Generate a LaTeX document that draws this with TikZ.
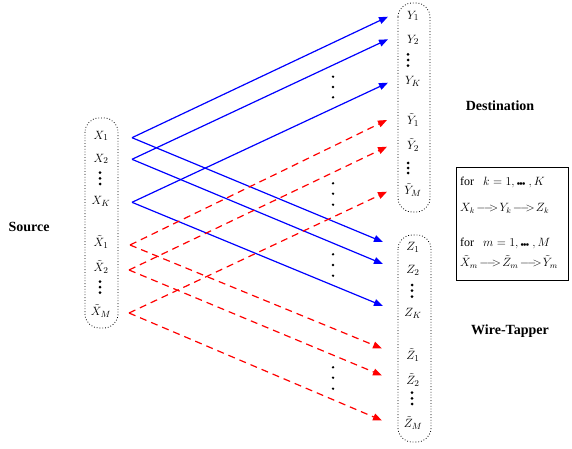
\documentclass[tikz,border=0pt]{standalone}
\usepackage{fontspec}
\setmainfont{Liberation Serif}
\usetikzlibrary{arrows.meta}
\newcommand{\hdots}{{\scriptscriptstyle\bullet\!\bullet\!\bullet}}
\newcommand{\marr}{\mkern2mu{\relbar\joinrel\relbar\joinrel\mkern-3mu>}\mkern2mu}
\begin{document}
\begin{tikzpicture}[x=1pt,y=-1pt,
  lbl/.style={inner sep=0pt,font=\fontsize{13}{13}\selectfont},
  blbl/.style={inner sep=0pt,font=\fontsize{12}{12}\selectfont},
  grp/.style={draw,dotted,thick,rounded corners=14pt},
  bluearr/.style={draw=blue,line width=1.2pt,-{Triangle[length=9pt,width=7pt]}},
  redarr/.style={draw=red,line width=1.2pt,dash pattern=on 7pt off 5pt,-{Triangle[length=9pt,width=7pt]}},
  title/.style={font=\bfseries\fontsize{14}{14}\selectfont},
  dot/.style={circle,fill=black,inner sep=0pt,minimum size=3pt}]
\useasboundingbox (0,0) rectangle (572,449);
% groups
\draw[grp] (85,118) rectangle (118,328);
\draw[grp] (398,3) rectangle (430,212);
\draw[grp] (398,235) rectangle (431,442);
% source labels
\node[lbl] (x1) at (101,136) {$X_1$};
\node[lbl] (x2) at (101,159) {$X_2$};
\node[lbl] (xk) at (101,201) {$X_K$};
\node[lbl] (xt1) at (101,242) {$\tilde X_1$};
\node[lbl] (xt2) at (101,267) {$\tilde X_2$};
\node[lbl] (xtm) at (101,311) {$\tilde X_M$};
\foreach \y [count=\i] in {172.7,178.3,184}{\node[dot] (sd\i) at (100,\y) {};}
\foreach \y [count=\i] in {281.5,287,292.5}{\node[dot] (std\i) at (100,\y) {};}
% destination labels
\node[lbl] (y1) at (413,16) {$Y_1$};
\node[lbl] (y2) at (413,40) {$Y_2$};
\node[lbl] (yk) at (413,81) {$Y_K$};
\node[lbl] (yt1) at (413,120) {$\tilde Y_1$};
\node[lbl] (yt2) at (413,145) {$\tilde Y_2$};
\node[lbl] (ytm) at (413,190) {$\tilde Y_M$};
\foreach \y [count=\i] in {54.3,60,65.7}{\node[dot] (yd\i) at (408,\y) {};}
\foreach \y [count=\i] in {163,168,173}{\node[dot] (ytd\i) at (408,\y) {};}
% wire-tapper labels
\node[lbl] (z1) at (413,247) {$Z_1$};
\node[lbl] (z2) at (413,270) {$Z_2$};
\node[lbl] (zk) at (413,313) {$Z_K$};
\node[lbl] (zt1) at (413,355) {$\tilde Z_1$};
\node[lbl] (zt2) at (413,380) {$\tilde Z_2$};
\node[lbl] (ztm) at (413,423) {$\tilde Z_M$};
\foreach \y [count=\i] in {285,290.7,296.7}{\node[dot] (zd\i) at (412,\y) {};}
\foreach \y [count=\i] in {392.7,398.3,404}{\node[dot] (ztd\i) at (412,\y) {};}
% middle dots
\foreach \y [count=\i] in {76.7,87,97.3}{\node[dot,minimum size=2.6pt] (m1\i) at (333,\y) {};}
\foreach \y [count=\i] in {183.3,193.7,204.7}{\node[dot,minimum size=2.6pt] (m2\i) at (333,\y) {};}
\foreach \y [count=\i] in {254.3,265,275.7}{\node[dot,minimum size=2.6pt] (m3\i) at (333,\y) {};}
\foreach \y [count=\i] in {367.3,377.7,388.7}{\node[dot,minimum size=2.6pt] (m4\i) at (333,\y) {};}
% vertices and tips
\coordinate (v1) at (132,137.7);
\coordinate (v2) at (132,159.3);
\coordinate (vk) at (132,202.3);
\coordinate (w1) at (130,245);
\coordinate (w2) at (129,270);
\coordinate (wm) at (129,313);
\coordinate (ty1) at (388,16.7);
\coordinate (ty2) at (388,39.3);
\coordinate (tyk) at (388,82.7);
\coordinate (tyt1) at (387,120);
\coordinate (tyt2) at (387,146.7);
\coordinate (tytm) at (387,191.7);
\coordinate (tz1) at (383,242);
\coordinate (tz2) at (383,264);
\coordinate (tzk) at (383,306);
\coordinate (tzt1) at (382,348.5);
\coordinate (tzt2) at (382,375.5);
\coordinate (tztm) at (382,420.5);
% blue
\draw[bluearr] (v1) -- (ty1);
\draw[bluearr] (v2) -- (ty2);
\draw[bluearr] (vk) -- (tyk);
\draw[bluearr] (v1) -- (tz1);
\draw[bluearr] (v2) -- (tz2);
\draw[bluearr] (vk) -- (tzk);
% red
\draw[redarr] (w1) -- (tyt1);
\draw[redarr] (w2) -- (tyt2);
\draw[redarr] (wm) -- (tytm);
\draw[redarr] (w1) -- (tzt1);
\draw[redarr] (w2) -- (tzt2);
\draw[redarr] (wm) -- (tztm);
% titles
\node[title] (dest) at (500,106) {Destination};
\node[title] (src) at (29,227) {Source};
\node[title] (wt) at (510,331) {Wire-Tapper};
% box
\draw[line width=0.8pt] (456,167.5) rectangle (568.5,280);
\node[blbl,anchor=west] (f1) at (460,182) {for \ \ $k=1, \hdots\ , K$};
\node[blbl,anchor=west] (f2) at (460,208) {$X_k \marr Y_k \marr Z_k$};
\node[blbl,anchor=west] (f3) at (460,243) {for \ \ $m=1, \hdots\ , M$};
\node[blbl,anchor=west] (f4) at (460,262) {$\tilde X_m \marr \tilde Z_m \marr \tilde Y_m$};
\end{tikzpicture}
\end{document}
